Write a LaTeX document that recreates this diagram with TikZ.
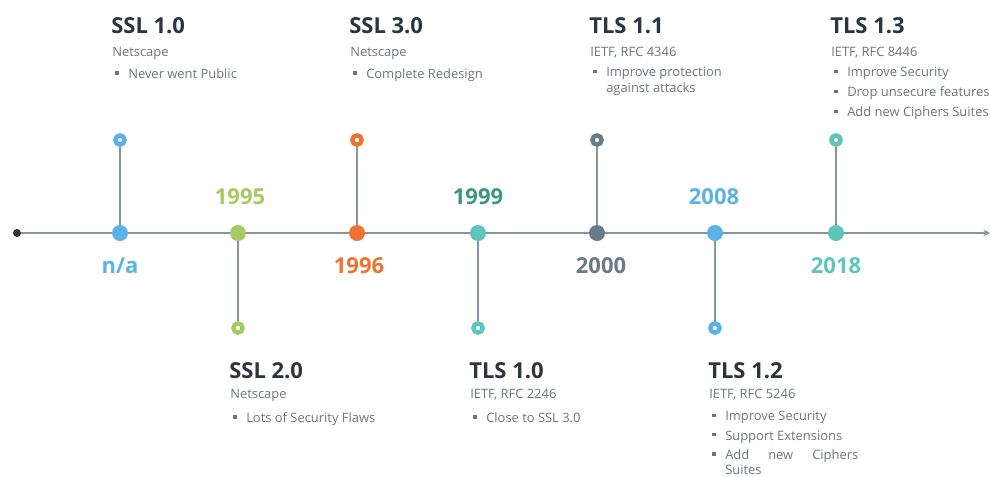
\documentclass[tikz,border=0pt]{standalone}
\usepackage{fontspec}
\setmainfont{Open Sans}
\usetikzlibrary{arrows.meta}
\definecolor{AxisGray}{RGB}{134,148,163}
\definecolor{InkDark}{RGB}{44,52,62}
\definecolor{TextGray}{RGB}{108,116,126}
\definecolor{SkyBlue}{RGB}{92,178,232}
\definecolor{LeafGreen}{RGB}{166,202,98}
\definecolor{FlameOrange}{RGB}{238,114,48}
\definecolor{SeaTeal}{RGB}{94,196,188}
\definecolor{DeepTeal}{RGB}{60,150,136}
\definecolor{SlateGray}{RGB}{106,122,136}
\newlength{\px}\setlength{\px}{0.75pt}
\newcommand{\tlbul}{\makebox[16\px][l]{\hspace{3\px}\raisebox{0.28em}{\rule{3.5\px}{3.5\px}}}}
\newcommand{\tlcont}{\hspace*{16\px}}

\begin{document}
\begin{tikzpicture}[x=0.75pt,y=-0.75pt,
  every node/.style={inner sep=0pt},
  dot/.style={circle, fill=#1, minimum size=12pt},
  pin/.style={circle, draw=#1, fill=white, line width=3.3pt, minimum size=7pt},
  stem/.style={draw=AxisGray, line width=1.5pt},
  year/.style={font=\fontsize{16.5}{20}\selectfont\bfseries, text=#1},
  ver/.style={anchor=base west, font=\fontsize{16.5}{20}\selectfont\bfseries, text=InkDark},
  src/.style={anchor=base west, font=\fontsize{9.7}{12}\selectfont, text=TextGray},
  items/.style={anchor=north west, align=left, font=\fontsize{9.7}{12}\selectfont, text=TextGray,
    execute at begin node=\strut}]
  \useasboundingbox (0,0) rectangle (990,476);

  % axis
  \node[dot=InkDark, minimum size=6pt] (start) at (17,233) {};
  \coordinate (end) at (990,233);
  \draw[draw=AxisGray, line width=1.8pt, -{Stealth[length=5pt,width=5pt]}] (start) -- (end);

  % points on the axis
  \node[dot=SkyBlue] (p0) at (120,233) {};
  \node[dot=LeafGreen] (p1) at (238,233) {};
  \node[dot=FlameOrange] (p2) at (357,233) {};
  \node[dot=SeaTeal] (p3) at (478,233) {};
  \node[dot=SlateGray] (p4) at (597,233) {};
  \node[dot=SkyBlue] (p5) at (715,233) {};
  \node[dot=SeaTeal] (p6) at (836,233) {};

  % years
  \node[year=SkyBlue] (y0) at (120,266) {n/a};
  \node[year=LeafGreen] (y1) at (240,197) {1995};
  \node[year=FlameOrange] (y2) at (359,266) {1996};
  \node[year=DeepTeal] (y3) at (478,197) {1999};
  \node[year=SlateGray] (y4) at (601,266) {2000};
  \node[year=SkyBlue] (y5) at (714,197) {2008};
  \node[year=SeaTeal] (y6) at (836,266) {2018};

  % pins + stems
  \node[pin=SkyBlue] (m0) at (120,140) {};
  \node[pin=LeafGreen] (m1) at (238,328) {};
  \node[pin=FlameOrange] (m2) at (357,140) {};
  \node[pin=SeaTeal] (m3) at (478,328) {};
  \node[pin=SlateGray] (m4) at (597,140) {};
  \node[pin=SkyBlue] (m5) at (715,328) {};
  \node[pin=SeaTeal] (m6) at (836,140) {};
  \draw[stem] (m0) -- (p0);
  \draw[stem] (m1) -- (p1);
  \draw[stem] (m2) -- (p2);
  \draw[stem] (m3) -- (p3);
  \draw[stem] (m4) -- (p4);
  \draw[stem] (m5) -- (p5);
  \draw[stem] (m6) -- (p6);

  % SSL 1.0
  \node[ver] (v0) at (111,33) {SSL 1.0};
  \node[src] (s0) at (112,56) {Netscape};
  \node[items] (b0) at (112,67) {\tlbul Never went Public};
  % SSL 2.0
  \node[ver] (v1) at (229,378) {SSL 2.0};
  \node[src] (s1) at (230,398) {Netscape};
  \node[items] (b1) at (230,411) {\tlbul Lots of Security Flaws};
  % SSL 3.0
  \node[ver] (v2) at (349,33) {SSL 3.0};
  \node[src] (s2) at (350,56) {Netscape};
  \node[items] (b2) at (350,67) {\tlbul Complete Redesign};
  % TLS 1.0
  \node[ver] (v3) at (469,378) {TLS 1.0};
  \node[src] (s3) at (470,398) {IETF, RFC 2246};
  \node[items] (b3) at (470,411) {\tlbul Close to SSL 3.0};
  % TLS 1.1
  \node[ver] (v4) at (589,33) {TLS 1.1};
  \node[src] (s4) at (590,56) {IETF, RFC 4346};
  \node[items] (b4) at (590,67) {\tlbul Improve protection\\ \tlcont against attacks};
  % TLS 1.2
  \node[ver] (v5) at (708,378) {TLS 1.2};
  \node[src] (s5) at (709,398) {IETF, RFC 5246};
  \node[items] (b5) at (709,411) {\tlbul Improve Security\\[2.5pt] \tlbul Support Extensions\\[2.5pt]
    \tlbul\makebox[133\px][s]{Add new Ciphers}\\[-1pt] \tlcont Suites};
  % TLS 1.3
  \node[ver] (v6) at (830,33) {TLS 1.3};
  \node[src] (s6) at (831,56) {IETF, RFC 8446};
  \node[items] (b6) at (831,67) {\tlbul Improve Security\\[3pt] \tlbul Drop unsecure features\\[3pt]
    \tlbul Add new Ciphers Suites};
\end{tikzpicture}
\end{document}
